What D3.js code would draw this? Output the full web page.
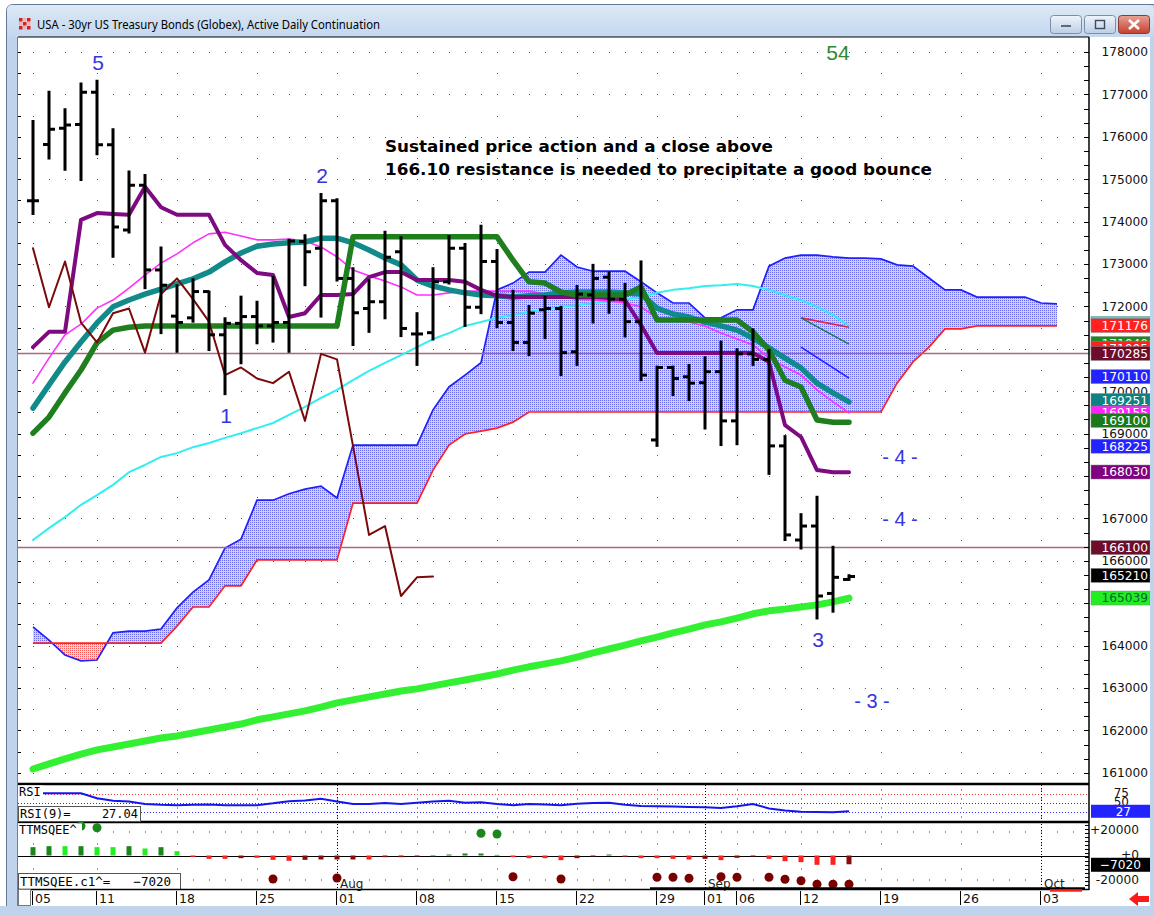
<!DOCTYPE html>
<html><head><meta charset="utf-8">
<script src="https://cdnjs.cloudflare.com/ajax/libs/d3/7.8.5/d3.min.js"></script>
<style>html,body{margin:0;padding:0;background:#fff}svg{display:block}</style>
</head><body>
<svg id="chart" width="1154" height="916"></svg>
<script>
// ================= DATA =================
const titleText = "USA - 30yr US Treasury Bonds (Globex), Active Daily Continuation";
const opens  = [174.49,175.82,176.20,176.29,177.05,175.81,173.80,174.86,172.86,171.77,171.73,172.35,171.33,171.60,171.76,171.54,171.62,173.53,173.37,174.49,172.66,171.95,172.11,173.29,171.35,171.38,172.58,173.37,171.98,173.06,171.62,171.15,171.92,171.95,170.93,172.27,172.69,172.17,171.64,168.85,170.56,170.34,170.20,170.46,169.30,170.88,170.75,168.71,166.49,166.82,165.23,165.56];
const highs  = [176.37,177.06,176.65,177.26,177.32,176.18,175.18,175.10,173.39,172.50,172.64,172.35,171.72,172.23,172.11,172.69,173.57,173.68,174.65,174.53,172.90,172.62,173.76,173.63,171.84,172.90,173.66,173.47,173.90,173.33,172.37,172.01,172.23,171.99,172.48,172.98,172.80,172.53,173.06,170.58,170.58,170.62,170.80,171.17,170.99,171.46,170.97,168.94,167.10,167.51,166.33,165.66];
const lows   = [174.18,175.49,175.22,174.98,175.59,173.17,173.74,172.43,171.37,170.93,171.64,170.97,169.93,170.66,171.13,171.17,170.93,172.50,171.76,172.61,171.09,171.40,171.72,171.30,170.62,171.22,172.54,171.54,171.84,171.51,170.97,170.85,171.25,170.38,170.62,171.62,171.85,171.29,170.26,168.71,169.91,169.79,169.12,168.73,168.75,170.62,168.05,166.49,166.29,164.64,164.80,165.55];
const closes = [174.49,176.18,176.28,177.05,175.81,173.87,174.86,172.86,172.50,171.62,172.35,171.33,171.60,171.76,171.54,171.62,173.54,173.29,174.49,172.66,171.85,172.11,173.16,171.48,171.35,172.58,173.37,171.98,173.06,171.62,171.15,171.84,171.95,170.91,172.29,172.66,172.17,171.64,170.38,170.56,170.30,170.19,170.46,169.30,170.88,170.75,168.71,166.61,166.82,165.17,165.61,165.63];

const tenkan = [171.04,171.40,171.40,174.04,174.20,174.18,174.16,174.82,174.34,174.16,174.16,174.16,173.45,173.09,172.79,172.74,171.75,171.84,172.27,172.27,172.29,172.69,172.81,172.81,172.62,172.62,172.62,172.58,172.39,172.25,172.22,172.22,172.22,172.22,172.22,172.22,172.20,172.15,171.56,170.90,170.90,170.90,170.90,170.90,170.90,170.90,170.69,169.20,168.92,168.14,168.09,168.09];
const kijun = [169.01,169.39,169.96,170.50,171.14,171.44,171.51,171.54,171.54,171.54,171.54,171.54,171.54,171.54,171.54,171.54,171.54,171.54,171.54,171.54,173.64,173.64,173.64,173.64,173.64,173.64,173.64,173.64,173.64,173.64,173.09,172.58,172.55,172.34,172.27,172.27,172.27,172.27,172.46,171.68,171.68,171.68,171.68,171.68,171.68,171.40,170.97,170.26,170.10,169.32,169.27,169.27];
const maTeal = [169.60,170.15,170.69,171.16,171.61,171.99,172.15,172.29,172.41,172.53,172.65,172.81,173.05,173.26,173.42,173.47,173.50,173.52,173.61,173.61,173.50,173.33,173.14,172.98,172.62,172.48,172.39,172.32,172.27,172.25,172.22,172.25,172.27,172.32,172.34,172.34,172.34,172.32,172.29,171.96,171.82,171.75,171.63,171.54,171.44,171.25,171.02,170.78,170.55,170.19,169.96,169.75];
const maMagenta = [170.19,170.78,171.33,171.58,171.96,172.15,172.43,172.74,173.02,173.24,173.50,173.71,173.75,173.66,173.57,173.57,173.59,173.54,173.40,173.17,172.86,172.72,172.60,172.46,172.27,172.27,172.32,172.36,172.36,172.36,172.36,172.36,172.29,172.22,172.17,172.15,172.13,172.08,171.99,171.73,171.68,171.63,171.54,171.37,171.23,171.09,170.78,170.57,170.38,170.03,169.75,169.49];
const maCyan = [166.49,166.77,167.03,167.32,167.55,167.79,168.09,168.26,168.45,168.54,168.68,168.78,168.90,169.01,169.13,169.25,169.44,169.63,169.84,170.03,170.26,170.48,170.67,170.85,171.04,171.23,171.37,171.54,171.63,171.73,171.80,171.87,171.92,171.99,172.03,172.08,172.13,172.17,172.22,172.32,172.39,172.43,172.48,172.50,172.53,172.48,172.39,172.27,172.15,171.99,171.80,171.54];
const maLong = [161.09,161.21,161.33,161.44,161.54,161.61,161.68,161.75,161.82,161.87,161.94,162.01,162.08,162.15,162.25,162.32,162.39,162.46,162.55,162.65,162.72,162.79,162.86,162.93,162.98,163.05,163.12,163.19,163.26,163.33,163.42,163.50,163.57,163.64,163.73,163.83,163.92,164.01,164.11,164.20,164.30,164.39,164.49,164.56,164.65,164.75,164.82,164.86,164.91,164.96,165.03,165.12];
const chikou = [173.37,171.98,173.06,171.62,171.15,171.84,171.95,170.91,172.29,172.66,172.17,171.64,170.38,170.56,170.30,170.19,170.46,169.30,170.88,170.75,168.71,166.61,166.82,165.17,165.61,165.63];
const spanA = [164.44,164.13,163.78,163.64,163.66,164.30,164.34,164.34,164.39,164.89,165.26,165.55,166.30,166.51,167.43,167.43,167.58,167.69,167.76,167.48,168.73,168.73,168.73,168.73,168.73,169.56,170.10,170.38,170.67,172.39,172.55,172.81,172.81,173.21,172.93,172.83,172.83,172.83,172.58,172.32,172.08,172.08,171.73,171.73,171.92,171.92,172.95,173.14,173.21,173.21,173.17,173.14,173.14,173.12,172.98,172.95,172.67,172.39,172.39,172.22,172.22,172.22,172.22,172.08,172.06];
const spanB = [164.06,164.06,164.06,164.06,164.06,164.06,164.06,164.06,164.06,164.46,164.91,164.91,165.41,165.41,166.02,166.02,166.02,166.02,166.02,166.02,167.36,167.36,167.36,167.36,167.36,168.14,168.73,168.99,169.06,169.13,169.27,169.51,169.51,169.51,169.51,169.51,169.51,169.51,169.51,169.51,169.51,169.51,169.51,169.51,169.51,169.51,169.51,169.51,169.51,169.51,169.51,169.51,169.51,169.51,170.19,170.69,171.04,171.47,171.47,171.54,171.54,171.54,171.54,171.54,171.54];
const projIdx = [48, 51];
const projRed = [171.73, 171.51];
const projGreen = [171.73, 171.11];
const projBlue = [171.04, 170.31];
const levelLines = [170.89, 166.3125];

const rsi = [77,77,77,77,63,56,54,47,45,44,45,46,44,44,44,49,55,57,62,54,47,47,50,47,51,54,56,51,52,47,44,47,46,44,48,50,51,45,42,41,40,39,38,36,41,47,35,29,26,25,24,27.04];
const rsiLevels = [75, 50, 25];
const rsiTicks = [75, 50];
const sqz = [6667,7467,7467,7467,6667,6667,7467,5600,6667,3467,-1067,-2667,-2667,-2133,-1867,-3467,-4267,-3467,-3200,-3200,-3200,-3200,-1333,-1333,-533,267,800,1600,1600,533,-1333,-2133,-2133,-3733,-2133,-533,800,-533,-2133,-2133,-2667,-3200,-2667,-3733,-1867,-800,-2667,-4533,-5333,-7467,-7467,-7020];
const sqzState = ['d','d','b','d','b','b','d','b','d','b','b','b','b','d','b','b','b','d','d','d','d','b','d','d','d','b','d','d','d','b','b','b','b','b','d','d','d','b','b','b','b','b','d','b','d','d','b','b','b','b','b','d'];
const sqzDots = [null,null,null,23600,22240,null,null,null,null,null,null,null,null,null,null,-18800,null,null,null,-18000,null,null,null,null,null,null,null,null,17760,17200,-16960,null,null,-18800,null,null,null,null,null,-17440,-17440,-18240,null,-17000,-17440,null,-17440,-19040,-20160,-23040,-23040,-23040];
const sqzTicks = [20000, 0, -20000];
const sqzTickLabels = ["+20000", "+0", "-20000"];

const priceTicks = d3.range(161, 179);
const xTickLabels = ["05","11","18","25","01","08","15","22","29","01","06","12","19","26","03"];
const xTickIndex  = [0,4,9,14,19,24,29,34,39,42,44,48,53,58,63];
const weekIndex   = [0,4,9,14,19,24,29,34,39,44,48,53,58,63];
const monthLabels = ["Aug","Sep","Oct"];
const monthIndex  = [19,42,63];

const badgeLabels = ["171192","171176","171040","171005","170285","170110","169251","169155","169100","168225","168030","166100","165210","165039"];
const badgeValues = [171.60,171.55,171.125,171.016,170.89,170.344,169.78,169.484,169.3125,168.703,168.094,166.3125,165.656,165.122];

const waveLabels = ["5","2","1","3"];
const waveIdx = [4, 18, 12, 49];
const wavePrice = [177.58, 174.91, 169.25, 163.97];
const noteLines = ["Sustained price action and a close above", "166.10 resistance is needed to precipitate a good bounce"];

// ================= STYLE / LAYOUT =================
const badgeColors = [["#33dddd","#fff"],["#ff2020","#fff"],["#1a8a1a","#fff"],["#ff2020","#fff"],["#6e0c2c","#fff"],["#2323ff","#fff"],["#108080","#fff"],["#ff22ff","#fff"],["#1a7a1a","#fff"],["#2323ff","#fff"],["#800080","#fff"],["#6e0c2c","#fff"],["#000","#fff"],["#22ee22","#063"]];
const svg = d3.select('#chart');
const defs = svg.append('defs');
const x = d3.scaleLinear().domain([0,1]).range([33,49]);
const y = d3.scaleLinear().domain([161,178]).range([772.8,52]);
const yR = d3.scaleLinear().domain([0,100]).range([821,785]);
const yS = d3.scaleLinear().domain([-20000,20000]).range([880.5,830.5]);
const L = 18, R = 1089, T = 37, B = 783.5;

// window chrome
svg.append('rect').attr('width',1154).attr('height',916).attr('fill','#fff');
const g1 = defs.append('linearGradient').attr('id','tb').attr('x1',0).attr('x2',0).attr('y1',0).attr('y2',1);
g1.append('stop').attr('offset','0%').attr('stop-color','#dde9f6');
g1.append('stop').attr('offset','100%').attr('stop-color','#c3d7ee');
svg.append('rect').attr('x',6.5).attr('y',4.5).attr('width',1160).attr('height',930).attr('rx',6).attr('fill','#bfd4ec').attr('stroke','#65789a');
svg.append('rect').attr('x',7).attr('y',5).attr('width',1147).attr('height',32).attr('rx',5).attr('fill','url(#tb)');
svg.append('rect').attr('x',18).attr('y',37).attr('width',1132).attr('height',869).attr('fill','#fff');
svg.append('line').attr('x1',17.5).attr('x2',17.5).attr('y1',37).attr('y2',906).attr('stroke','#6f8098');
// icon
[[0,0],[2,0],[1,1],[0,2],[2,2]].forEach(([a,b])=>svg.append('rect').attr('x',19+a*4).attr('y',18+b*4).attr('width',3.5).attr('height',3.5).attr('fill','#d42020'));
[[1,0],[0,1],[2,1],[1,2]].forEach(([a,b])=>svg.append('rect').attr('x',19+a*4).attr('y',18+b*4).attr('width',3.5).attr('height',3.5).attr('fill','#f3b0b0'));
svg.append('text').attr('x',37).attr('y',29).attr('font-family','Noto Sans, DejaVu Sans, sans-serif').attr('font-size',12).attr('textLength',343).attr('lengthAdjust','spacingAndGlyphs').attr('fill','#000').text(titleText);
// buttons
const gb = defs.append('linearGradient').attr('id','btn').attr('x1',0).attr('x2',0).attr('y1',0).attr('y2',1);
gb.append('stop').attr('offset','0%').attr('stop-color','#eef4fb'); gb.append('stop').attr('offset','100%').attr('stop-color','#bccfe6');
const gc = defs.append('linearGradient').attr('id','cls').attr('x1',0).attr('x2',0).attr('y1',0).attr('y2',1);
gc.append('stop').attr('offset','0%').attr('stop-color','#e9a295'); gc.append('stop').attr('offset','100%').attr('stop-color','#c4412e');
svg.append('rect').attr('x',1050.5).attr('y',15.5).attr('width',31).attr('height',18).attr('rx',3).attr('fill','url(#btn)').attr('stroke','#7d8fa8');
svg.append('rect').attr('x',1060.5).attr('y',24.5).attr('width',11).attr('height',3).attr('fill','#5a6a80').attr('stroke','#fff').attr('stroke-width',0.6);
svg.append('rect').attr('x',1084.5).attr('y',15.5).attr('width',31).attr('height',18).attr('rx',3).attr('fill','url(#btn)').attr('stroke','#7d8fa8');
svg.append('rect').attr('x',1095.5).attr('y',20.5).attr('width',9).attr('height',8).attr('fill','none').attr('stroke','#3c4a60').attr('stroke-width',1.4);
svg.append('rect').attr('x',1118.5).attr('y',15.5).attr('width',31).attr('height',18).attr('rx',3).attr('fill','url(#cls)').attr('stroke','#8a3a30');
svg.append('path').attr('d','M1129,20 L1139,29 M1139,20 L1129,29').attr('stroke','#fff').attr('stroke-width',2.6);

// ---- main panel ----
defs.append('clipPath').attr('id','mainClip').append('rect').attr('x',L).attr('y',T+1).attr('width',R-L).attr('height',B-T-1);
const main = svg.append('g').attr('clip-path','url(#mainClip)');
const dayCols = d3.range(0, 66);
priceTicks.forEach(p=>dayCols.forEach(i=>main.append('rect').attr('x',x(i)).attr('y',Math.round(y(p))).attr('width',1).attr('height',1).attr('fill','#555')));
priceTicks.slice(0,-1).forEach(p=>weekIndex.forEach(i=>main.append('rect').attr('x',x(i)).attr('y',Math.round(y(p+0.5))).attr('width',1).attr('height',1).attr('fill','#555')));

// cloud patterns
const pb = defs.append('pattern').attr('id','pBlue').attr('width',2).attr('height',2).attr('patternUnits','userSpaceOnUse');
pb.append('rect').attr('width',2).attr('height',2).attr('fill','#d0d0fa');
pb.append('rect').attr('width',1).attr('height',1).attr('fill','#6a6af0');
const pr = defs.append('pattern').attr('id','pRed').attr('width',2).attr('height',2).attr('patternUnits','userSpaceOnUse');
pr.append('rect').attr('width',2).attr('height',2).attr('fill','#ffdcdc');
pr.append('rect').attr('width',1).attr('height',1).attr('fill','#ff5a5a');
const cloudIdx = d3.range(spanA.length);
defs.append('clipPath').attr('id','cAbove').append('path').attr('d', d3.area().x(i=>x(i)).y0(T).y1(i=>y(spanB[i]))(cloudIdx));
defs.append('clipPath').attr('id','cBelow').append('path').attr('d', d3.area().x(i=>x(i)).y0(i=>y(spanB[i])).y1(B)(cloudIdx));
const cloudArea = d3.area().x(i=>x(i)).y0(i=>y(spanB[i])).y1(i=>y(spanA[i]));
main.append('g').attr('clip-path','url(#cAbove)').append('path').attr('d',cloudArea(cloudIdx)).attr('fill','url(#pBlue)');
main.append('g').attr('clip-path','url(#cBelow)').append('path').attr('d',cloudArea(cloudIdx)).attr('fill','url(#pRed)');
const line = d3.line().x((d,i)=>x(i)).y(d=>y(d));
main.append('path').attr('d',line(spanA)).attr('fill','none').attr('stroke','#2020ff').attr('stroke-width',1.7);
main.append('path').attr('d',line(spanB)).attr('fill','none').attr('stroke','#ff2020').attr('stroke-width',1.7);
levelLines.forEach(v=>main.append('line').attr('x1',L).attr('x2',R).attr('y1',y(v)).attr('y2',y(v)).attr('stroke','#a8687f').attr('stroke-width',1.6));

function drawLine(arr, color, w){
  main.append('path').attr('d',line(arr)).attr('fill','none').attr('stroke',color).attr('stroke-width',w).attr('stroke-linejoin','round').attr('stroke-linecap','round');
}
drawLine(maCyan,'#33eeee',2);
drawLine(maMagenta,'#ff30ff',1.6);
drawLine(maTeal,'#138a8a',5.5);
drawLine(tenkan,'#7d0a80',4);
drawLine(kijun,'#1f7f1f',5.5);
drawLine(chikou,'#7a0a0a',2);
drawLine(maLong,'#33f033',7);
const pline = d3.line().x((d,k)=>x(projIdx[k])).y(d=>y(d));
main.append('path').attr('d',pline(projRed)).attr('stroke','#e8203a').attr('stroke-width',1.6).attr('fill','none');
main.append('path').attr('d',pline(projGreen)).attr('stroke','#1d7a3a').attr('stroke-width',1.6).attr('fill','none');
main.append('path').attr('d',pline(projBlue)).attr('stroke','#2020ff').attr('stroke-width',1.6).attr('fill','none');

// OHLC bars
const gBars = main.append('g').attr('stroke','#000').attr('stroke-width',3);
closes.forEach((c,i)=>{
  const cx = x(i);
  gBars.append('line').attr('x1',cx).attr('x2',cx).attr('y1',y(highs[i])-1).attr('y2',y(lows[i])+1);
  gBars.append('line').attr('x1',cx-6).attr('x2',cx).attr('y1',y(opens[i])).attr('y2',y(opens[i]));
  gBars.append('line').attr('x1',cx).attr('x2',cx+6).attr('y1',y(c)).attr('y2',y(c));
});

// annotations
const fontA = 'Liberation Sans, Arial, sans-serif';
waveLabels.forEach((t,k)=>svg.append('text').attr('x',x(waveIdx[k])+1).attr('y',y(wavePrice[k])).attr('text-anchor','middle').attr('font-family',fontA).attr('font-size',21).attr('fill','#3535e0').text(t));
svg.append('text').attr('x',838).attr('y',60).attr('text-anchor','middle').attr('font-family',fontA).attr('font-size',21).attr('fill','#2d8a2d').text('54');
[[900,464,'- 4 -'],[900,526,'- 4 -'],[872,708,'- 3 -']].forEach(([a,b,t])=>svg.append('text').attr('x',a).attr('y',b).attr('text-anchor','middle').attr('font-family',fontA).attr('font-size',20).attr('fill','#3535e0').text(t));
svg.append('text').attr('x',385).attr('y',152).attr('font-family','DejaVu Sans, Verdana, sans-serif').attr('font-weight','bold').attr('font-size',16).attr('textLength',388).attr('lengthAdjust','spacingAndGlyphs').attr('fill','#000').text(noteLines[0]);
svg.append('text').attr('x',385).attr('y',175).attr('font-family','DejaVu Sans, Verdana, sans-serif').attr('font-weight','bold').attr('font-size',16).attr('textLength',547).attr('lengthAdjust','spacingAndGlyphs').attr('fill','#000').text(noteLines[1]);

// frame lines
svg.append('line').attr('x1',L).attr('x2',R).attr('y1',T).attr('y2',T).attr('stroke','#000');
svg.append('line').attr('x1',R).attr('x2',R).attr('y1',T).attr('y2',890).attr('stroke','#000').attr('stroke-width',1.5);
svg.append('line').attr('x1',L).attr('x2',R).attr('y1',784).attr('y2',784).attr('stroke','#000').attr('stroke-width',2.5);
svg.append('line').attr('x1',L).attr('x2',R).attr('y1',822).attr('y2',822).attr('stroke','#000').attr('stroke-width',2.5);
d3.range(161, 178.01, 1/3).forEach(p=>svg.append('line').attr('x1',R-5).attr('x2',R).attr('y1',Math.round(y(p))+0.5).attr('y2',Math.round(y(p))+0.5).attr('stroke','#000'));
d3.range(161, 178.01, 0.5).forEach(p=>svg.append('line').attr('x1',L).attr('x2',L+3).attr('y1',Math.round(y(p))+0.5).attr('y2',Math.round(y(p))+0.5).attr('stroke','#000'));

// price axis labels (ticks hidden entirely by a badge are skipped)
const fontN = 'DejaVu Sans, Verdana, sans-serif';
const visibleTicks = priceTicks.filter(p=>!badgeValues.some(b=>Math.abs(y(b)-y(p))<6.5));
const gAxis = svg.append('g').attr('transform','translate(1148,0)')
  .call(d3.axisLeft(y).tickValues(visibleTicks).tickSize(0).tickPadding(0).tickFormat(d=>d3.format('d')(d*1000)));
gAxis.select('.domain').remove();
gAxis.selectAll('text').attr('font-family',fontN).attr('font-size',12.2).attr('fill','#111');
badgeValues.forEach((v,k)=>{
  const by = y(v);
  svg.append('rect').attr('x',1091).attr('y',by-7).attr('width',59).attr('height',14).attr('fill',badgeColors[k][0]).attr('stroke','#888').attr('stroke-width',0.5);
  svg.append('text').attr('x',1148).attr('y',by).attr('dy','0.36em').attr('text-anchor','end').attr('font-family',fontN).attr('font-size',12.2).attr('fill',badgeColors[k][1]).text(badgeLabels[k]);
});

// ---- RSI panel ----
const colors3 = ['#ff3030','#404040','#3030ff'];
rsiLevels.forEach((v,k)=>svg.append('line').attr('x1',L).attr('x2',R).attr('y1',Math.round(yR(v))+0.5).attr('y2',Math.round(yR(v))+0.5).attr('stroke',colors3[k]).attr('stroke-dasharray','1,2'));
[789.5,798.5,807.5,816.5].forEach(yy=>weekIndex.forEach(i=>svg.append('rect').attr('x',x(i)).attr('y',yy).attr('width',1).attr('height',1).attr('fill','#333')));
const rline = d3.line().x((d,i)=>x(i)).y(d=>yR(d));
svg.append('path').attr('d',rline(rsi)).attr('fill','none').attr('stroke','#1515f0').attr('stroke-width',2);
svg.append('rect').attr('x',18).attr('y',785.5).attr('width',25).attr('height',13).attr('fill','#fff');
svg.append('text').attr('x',19).attr('y',796).attr('font-family','DejaVu Sans Mono, monospace').attr('font-size',12).attr('fill','#000').text('RSI');
svg.append('rect').attr('x',18.5).attr('y',806.5).attr('width',122).attr('height',15).attr('fill','#fff').attr('stroke','#555');
svg.append('text').attr('x',20).attr('y',818).attr('font-family','DejaVu Sans Mono, monospace').attr('font-size',12).attr('fill','#000').text('RSI(9)=');
svg.append('text').attr('x',138).attr('y',818).attr('text-anchor','end').attr('font-family','DejaVu Sans Mono, monospace').attr('font-size',12).attr('fill','#000').text(d3.format('.2f')(rsi[rsi.length-1]));
rsiTicks.forEach(v=>svg.append('text').attr('x',1129).attr('y',yR(v)-1).attr('dy','0.3em').attr('text-anchor','end').attr('font-family',fontN).attr('font-size',12).attr('fill','#111').text(v));
svg.append('rect').attr('x',1091).attr('y',yR(rsi[rsi.length-1])-6.5).attr('width',59).attr('height',13).attr('fill','#2323ff');
svg.append('text').attr('x',1131).attr('y',yR(rsi[rsi.length-1])).attr('dy','0.36em').attr('text-anchor','end').attr('font-family',fontN).attr('font-size',12).attr('fill','#fff').text(d3.format('d')(rsi[rsi.length-1]));

// ---- TTMSQEE panel ----
[831.5,879.5].forEach(yy=>dayCols.forEach(i=>svg.append('rect').attr('x',x(i)).attr('y',yy).attr('width',1).attr('height',1).attr('fill','#333')));
[843.5,868.5].forEach(yy=>weekIndex.forEach(i=>svg.append('rect').attr('x',x(i)).attr('y',yy).attr('width',1).attr('height',1).attr('fill','#333')));
svg.append('line').attr('x1',L).attr('x2',R).attr('y1',Math.round(yS(0))+0.5).attr('y2',Math.round(yS(0))+0.5).attr('stroke','#000');
sqz.forEach((v,i)=>{
  const col = v>=0 ? (sqzState[i]==='b'?'#22ee22':'#1b861b') : (sqzState[i]==='b'?'#ff2020':'#8a0c0c');
  svg.append('rect').attr('x',x(i)-2.5).attr('y',yS(Math.max(v,0))).attr('width',5).attr('height',Math.max(1,Math.abs(yS(v)-yS(0)))).attr('fill',col);
});
sqzDots.forEach((v,i)=>{ if(v!==null) svg.append('circle').attr('cx',x(i)).attr('cy',yS(v)).attr('r',4.5).attr('fill',v>0?'#1b861b':'#7a0000'); });
monthIndex.forEach(i=>svg.append('line').attr('x1',x(i)+0.5).attr('x2',x(i)+0.5).attr('y1',785).attr('y2',889).attr('stroke','#000').attr('stroke-dasharray','1,2'));
monthLabels.forEach((t,k)=>svg.append('text').attr('x',x(monthIndex[k])+3).attr('y',888).attr('font-family',fontN).attr('font-size',12).attr('fill','#222').text(t));
svg.append('rect').attr('x',18).attr('y',823.5).attr('width',64).attr('height',12).attr('fill','#fff');
svg.append('text').attr('x',19).attr('y',834).attr('font-family','DejaVu Sans Mono, monospace').attr('font-size',12).attr('fill','#000').text('TTMSQEE^');
svg.append('rect').attr('x',18.5).attr('y',873.5).attr('width',162).attr('height',16).attr('fill','#fff').attr('stroke','#555');
svg.append('text').attr('x',20).attr('y',886).attr('font-family','DejaVu Sans Mono, monospace').attr('font-size',12.5).attr('fill','#000').text('TTMSQEE.c1^=');
svg.append('text').attr('x',171).attr('y',886).attr('text-anchor','end').attr('font-family','DejaVu Sans Mono, monospace').attr('font-size',12.5).attr('fill','#000').text(d3.format('d')(sqz[sqz.length-1]));
d3.range(825, 889, 4).forEach(yy=>svg.append('line').attr('x1',R-4).attr('x2',R).attr('y1',yy+0.5).attr('y2',yy+0.5).attr('stroke','#000'));
sqzTicks.forEach((v,k)=>svg.append('text').attr('x',1139).attr('y',yS(v)-1).attr('dy','0.35em').attr('text-anchor','end').attr('font-family',fontN).attr('font-size',12.2).attr('fill','#111').text(sqzTickLabels[k]));
svg.append('rect').attr('x',1091).attr('y',yS(sqz[sqz.length-1])-6.5).attr('width',59).attr('height',14).attr('fill','#000');
svg.append('text').attr('x',1141).attr('y',yS(sqz[sqz.length-1])+0.5).attr('dy','0.36em').attr('text-anchor','end').attr('font-family',fontN).attr('font-size',12.2).attr('fill','#fff').text(d3.format('d')(sqz[sqz.length-1]));

// ---- date axis ----
svg.append('line').attr('x1',L).attr('x2',R).attr('y1',889.5).attr('y2',889.5).attr('stroke','#000').attr('stroke-width',1.5);
svg.append('line').attr('x1',650).attr('x2',1085).attr('y1',888.5).attr('y2',888.5).attr('stroke','#000').attr('stroke-width',2.5);
svg.append('line').attr('x1',1050).attr('x2',1082).attr('y1',890.5).attr('y2',890.5).attr('stroke','#ff2020').attr('stroke-width',2.5);
xTickIndex.forEach((i,k)=>{
  svg.append('line').attr('x1',x(i)-0.5).attr('x2',x(i)-0.5).attr('y1',891).attr('y2',905).attr('stroke','#000');
  svg.append('text').attr('x',x(i)+2).attr('y',903).attr('font-family',fontN).attr('font-size',12.5).attr('fill','#111').text(xTickLabels[k]);
});
svg.append('rect').attr('x',18.5).attr('y',889.5).attr('width',12).attr('height',16).attr('fill','#fff').attr('stroke','#777');
svg.append('path').attr('d','M1129,899 L1138,892 L1138,896 L1149,896 L1149,902 L1138,902 L1138,906 Z').attr('fill','#ff1a1a');
svg.append('rect').attr('x',0).attr('y',906).attr('width',1154).attr('height',10).attr('fill','#bfd4ec');
svg.append('rect').attr('x',1150).attr('y',37).attr('width',4).attr('height',879).attr('fill','#bfd4ec');
</script>
</body></html>
